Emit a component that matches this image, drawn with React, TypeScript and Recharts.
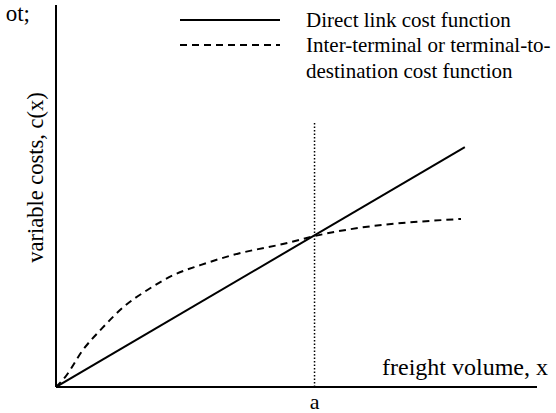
import React from "react";
import { LineChart, Line, XAxis, YAxis, ReferenceLine } from "recharts";

const A_VALUE = 5.375;
const A_TOP = 6.91;
const directLink = [
  { x: 0, y: 0 },
  { x: 8.5, y: 6.28 },
];
const terminalCost = [
  { x: 0, y: 0 },
  { x: 0.19, y: 0.26 },
  { x: 0.56, y: 0.97 },
  { x: 0.96, y: 1.54 },
  { x: 1.4, y: 2.09 },
  { x: 1.9, y: 2.54 },
  { x: 2.44, y: 2.93 },
  { x: 3.0, y: 3.19 },
  { x: 3.69, y: 3.46 },
  { x: 4.81, y: 3.77 },
  { x: 5.375, y: 3.95 },
  { x: 8.42, y: 4.4 },
];
const xTicks = [A_VALUE];
const xTickLabels = ["a"];
const legendItems = [
  { lines: ["Direct link cost function"], dash: undefined as string | undefined },
  { lines: ["Inter-terminal or terminal-to-", "destination cost function"], dash: "7 5" },
];

const FONT = "'Liberation Serif', 'Times New Roman', serif";
const FS = 21;

export default function App() {
  return (
    <div style={{ position: "absolute", left: 0, top: 0, width: 556, height: 413, background: "#fff" }}>
      <LineChart
        width={556}
        height={413}
        margin={{ top: 5, right: 19, left: 0, bottom: 0 }}
      >
        <XAxis
          type="number"
          dataKey="x"
          domain={[0, 10]}
          ticks={xTicks}
          tickFormatter={(v: number) => xTickLabels[xTicks.indexOf(v)] ?? ""}
          tickLine={false}
          tickSize={4}
          height={26}
          axisLine={{ stroke: "#000", strokeWidth: 2 }}
          tick={{ fill: "#000", fontSize: 22, fontFamily: FONT }}
          allowDataOverflow
        />
        <YAxis
          type="number"
          dataKey="y"
          domain={[0, 10]}
          width={56}
          tick={false}
          tickLine={false}
          axisLine={{ stroke: "#000", strokeWidth: 2 }}
          allowDataOverflow
        />
        <ReferenceLine
          segment={[
            { x: A_VALUE, y: 0 },
            { x: A_VALUE, y: A_TOP },
          ]}
          stroke="#000"
          strokeWidth={1.5}
          strokeDasharray="1.5 2"
        />
        <Line
          data={terminalCost}
          dataKey="y"
          type="monotone"
          stroke="#000"
          strokeWidth={2}
          strokeDasharray="7 5"
          dot={false}
          isAnimationActive={false}
        />
        <Line
          data={directLink}
          dataKey="y"
          type="linear"
          stroke="#000"
          strokeWidth={2}
          dot={false}
          isAnimationActive={false}
        />
      </LineChart>
      <svg
        width={556}
        height={413}
        style={{ position: "absolute", left: 0, top: 0, pointerEvents: "none" }}
        fontFamily={FONT}
        fontSize={FS}
      >
        <text x={30} y={21} textAnchor="end" fill="#000" fontSize={23}>ot;</text>
        <text
          x={43}
          y={177.5}
          textAnchor="middle"
          fill="#000"
          fontSize={22.5}
          transform="rotate(-90 43 177.5)"
        >
          variable costs, c(x)
        </text>
        <text x={382} y={375} fill="#000" fontSize={24}>freight volume, x</text>
        {legendItems.map((item, i) => {
          const y = 20 + i * 25;
          return (
            <g key={i}>
              <line x1={180} x2={280} y1={y} y2={y} stroke="#000" strokeWidth={2} strokeDasharray={item.dash} />
              {item.lines.map((t, j) => (
                <text key={j} x={306} y={y + 7 + j * 26} fill="#000">{t}</text>
              ))}
            </g>
          );
        })}
      </svg>
    </div>
  );
}
